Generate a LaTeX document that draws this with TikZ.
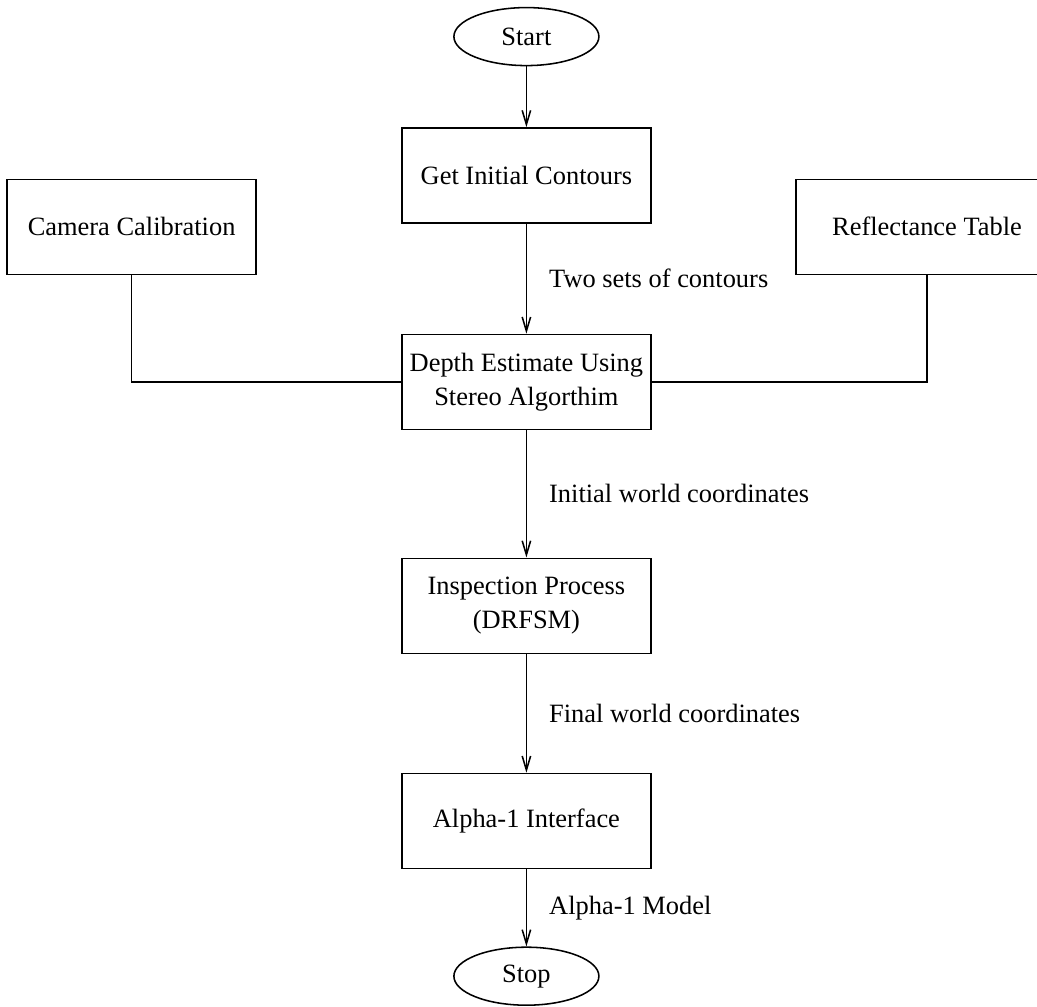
\documentclass[tikz,border=0pt]{standalone}
\usepackage{fontspec}
\setmainfont{Liberation Serif}
\usetikzlibrary{shapes.geometric, arrows.meta}

\tikzset{
  process/.style={draw, rectangle, line width=1.1pt, minimum width=6.225cm, minimum height=2.375cm, align=center, inner sep=2pt},
  terminal/.style={draw, ellipse, line width=1.1pt, minimum width=3.625cm, minimum height=1.45cm, inner sep=0pt},
  flow/.style={line width=1.1pt, -{Straight Barb[length=10pt, width=6pt]}},
  link/.style={line width=1.1pt},
  flowlabel/.style={anchor=west, inner sep=0pt, xshift=0.55cm},
}

\begin{document}
\begin{tikzpicture}[font=\fontsize{18.8}{24.4}\selectfont]
  \useasboundingbox (0, 0) rectangle (25.925, 25.175);

  % Start and stop
  \node[terminal] (start) at (13.16, 24.26) {Start};
  \node[terminal] (stop)  at (13.16, 0.77)  {Stop};

  % Main column
  \node[process] (contours) at (13.16, 20.79) {Get Initial Contours};
  \node[process] (depth)    at (13.16, 15.625) {Depth Estimate Using\\Stereo Algorthim};
  \node[process] (inspect)  at (13.16, 10.03) {Inspection Process\\(DRFSM)};
  \node[process] (alpha)    at (13.16, 4.65)  {Alpha-1 Interface};

  % Side inputs
  \node[process] (camera)  at (3.29, 19.505)   {Camera Calibration};
  \node[process, minimum width=6.55cm] (reflect) at (23.175, 19.505) {Reflectance Table};

  % Connections
  \draw[flow] (start) -- (contours);
  \draw[flow] (contours) -- node[flowlabel] (twosets) {Two sets of contours} (depth);
  \draw[flow] (depth) -- node[flowlabel] (initworld) {Initial world coordinates} (inspect);
  \draw[flow] (inspect) -- node[flowlabel] (finalworld) {Final world coordinates} (alpha);
  \draw[flow] (alpha) -- node[flowlabel] (model) {Alpha-1 Model} (stop);
  \draw[link] (camera.south) |- (depth.west);
  \draw[link] (reflect.south) |- (depth.east);
\end{tikzpicture}
\end{document}
